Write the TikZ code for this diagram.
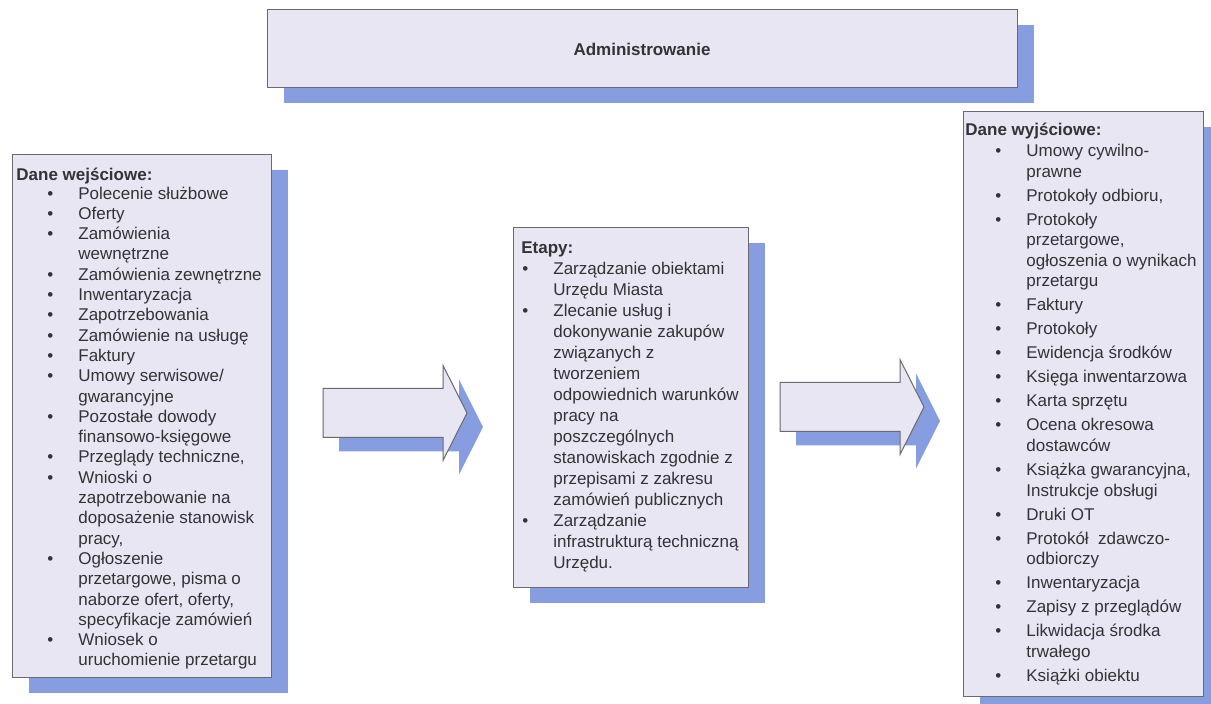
\documentclass[tikz,border=0pt]{standalone}
\usepackage{fontspec}
\setmainfont{Liberation Sans}
\usetikzlibrary{shadows}
\definecolor{kartkafill}{RGB}{231,230,242}
\definecolor{cien}{RGB}{134,158,224}
\definecolor{ramka}{RGB}{105,105,110}
\definecolor{tekst}{RGB}{50,50,55}
\newcommand{\pkt}{\makebox[15.5pt][l]{\textbullet}}
\begin{document}
\begin{tikzpicture}[x=0.5pt, y=-0.5pt,
  kartka/.style={draw=ramka, line width=0.5pt, fill=kartkafill, inner sep=0pt,
    drop shadow={shadow xshift=8.5pt, shadow yshift=-7.5pt, fill=cien, opacity=1}},
  lista/.style={anchor=base west, inner sep=0pt, text=tekst,
    font=\fontsize{8.5pt}{10.15pt}\selectfont},
  strzalka/.style={draw=ramka, line width=0.5pt, fill=kartkafill,
    drop shadow={shadow xshift=8pt, shadow yshift=-7pt, fill=cien, opacity=1}}]
  \path[use as bounding box, fill=white] (0,0) rectangle (1211,704);

  % Boxes
  \node[kartka, minimum width=375pt, minimum height=39pt, text=tekst,
        font=\fontsize{8.5pt}{10pt}\selectfont\bfseries] (admin) at (642,49) {Administrowanie};
  \node[kartka, minimum width=129.5pt, minimum height=261.5pt] (wej) at (141.5,416.5) {};
  \node[kartka, minimum width=117.5pt, minimum height=180pt] (etapy) at (630.5,408) {};
  \node[kartka, minimum width=120pt, minimum height=292.5pt] (wyj) at (1083,404.5) {};

  % Block arrows
  \foreach \ax/\ay in {323/413, 780/407}{
    \draw[strzalka] (\ax,\ay-24.5) -- ++(120,0) -- ++(0,-23) -- (\ax+144,\ay)
      -- (\ax+120,\ay+47.5) -- ++(0,-23) -- (\ax,\ay+24.5) -- cycle;
  }

  % Input data
  \node[lista] (wejTekst) at (16,181) {\begin{tabular}[t]{@{\hspace{15.5pt}}l@{}l@{}}
    \multicolumn{2}{@{}l@{}}{\textbf{Dane wejściowe:}}\\[-1.1pt]
    \pkt & Polecenie służbowe\\
    \pkt & Oferty\\
    \pkt & Zamówienia\\
         & wewnętrzne\\
    \pkt & Zamówienia zewnętrzne\\
    \pkt & Inwentaryzacja\\
    \pkt & Zapotrzebowania\\
    \pkt & Zamówienie na usługę\\
    \pkt & Faktury\\
    \pkt & Umowy serwisowe/\\
         & gwarancyjne\\
    \pkt & Pozostałe dowody\\
         & finansowo-księgowe\\
    \pkt & Przeglądy techniczne,\\
    \pkt & Wnioski o\\
         & zapotrzebowanie na\\
         & doposażenie stanowisk\\
         & pracy,\\
    \pkt & Ogłoszenie\\
         & przetargowe, pisma o\\
         & naborze ofert, oferty,\\
         & specyfikacje zamówień\\
    \pkt & Wniosek o\\
         & uruchomienie przetargu
  \end{tabular}};

  % Stages
  \node[lista, font=\fontsize{8.5pt}{10.5pt}\selectfont] (etapyTekst) at (521,254)
  {\begin{tabular}[t]{@{\hspace{0.5pt}}l@{}l@{}}
    \multicolumn{2}{@{}l@{}}{\textbf{Etapy:}}\\
    \pkt & Zarządzanie obiektami\\
         & Urzędu Miasta\\
    \pkt & Zlecanie usług i\\
         & dokonywanie zakupów\\
         & związanych z\\
         & tworzeniem\\
         & odpowiednich warunków\\
         & pracy na\\
         & poszczególnych\\
         & stanowiskach zgodnie z\\
         & przepisami z zakresu\\
         & zamówień publicznych\\
    \pkt & Zarządzanie\\
         & infrastrukturą techniczną\\
         & Urzędu.
  \end{tabular}};

  % Output data
  \node[lista, font=\fontsize{8.5pt}{10.3pt}\selectfont] (wyjTekst) at (965,136)
  {\begin{tabular}[t]{@{\hspace{15pt}}l@{}l@{}}
    \multicolumn{2}{@{}l@{}}{\textbf{Dane wyjściowe:}}\\
    \pkt & Umowy cywilno-\\
         & prawne\\[1.7pt]
    \pkt & Protokoły odbioru,\\[1.7pt]
    \pkt & Protokoły\\
         & przetargowe,\\
         & ogłoszenia o wynikach\\
         & przetargu\\[1.7pt]
    \pkt & Faktury\\[1.7pt]
    \pkt & Protokoły\\[1.7pt]
    \pkt & Ewidencja środków\\[1.7pt]
    \pkt & Księga inwentarzowa\\[1.7pt]
    \pkt & Karta sprzętu\\[1.7pt]
    \pkt & Ocena okresowa\\
         & dostawców\\[1.7pt]
    \pkt & Książka gwarancyjna,\\
         & Instrukcje obsługi\\[1.7pt]
    \pkt & Druki OT\\[1.7pt]
    \pkt & Protokół\ \ zdawczo-\\
         & odbiorczy\\[1.7pt]
    \pkt & Inwentaryzacja\\[1.7pt]
    \pkt & Zapisy z przeglądów\\[1.7pt]
    \pkt & Likwidacja środka\\
         & trwałego\\[1.7pt]
    \pkt & Książki obiektu
  \end{tabular}};
\end{tikzpicture}
\end{document}
